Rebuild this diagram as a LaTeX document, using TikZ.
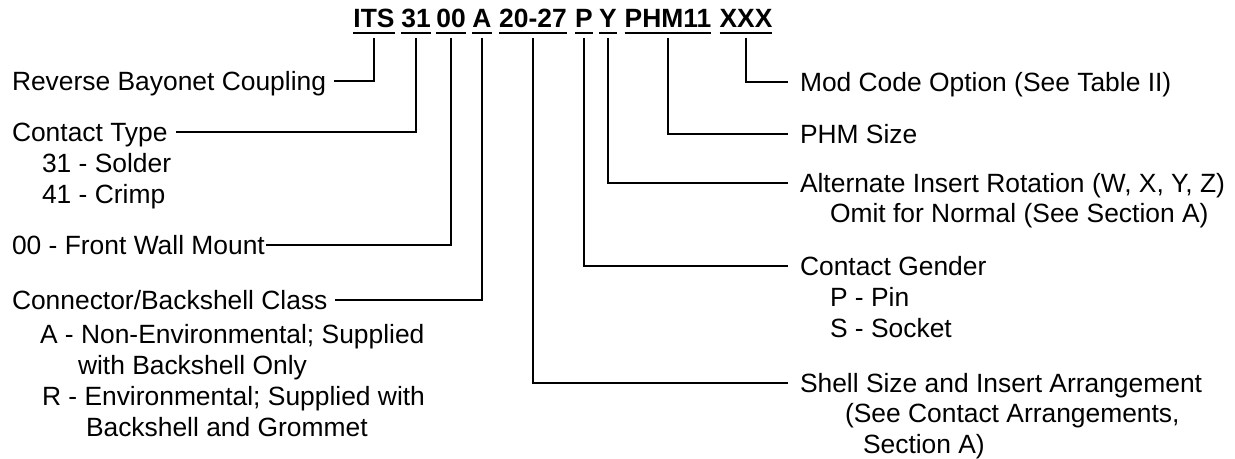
\documentclass[tikz,border=0pt]{standalone}
\usepackage{fontspec}
\setmainfont{Liberation Sans}
\usepackage{tikz}
\usetikzlibrary{positioning}

\tikzset{
    seg/.style={font=\fontsize{13.2}{15.5}\selectfont\bfseries, inner sep=0pt,
                outer xsep=0pt, outer ysep=5pt, text depth=0pt, anchor=base},
    lbl/.style={font=\fontsize{13.2}{15.5}\selectfont, inner sep=0pt, outer xsep=#1,
                text height=9.4pt, text depth=0pt, anchor=west},
    lbl/.default=4pt,
    lead/.style={line width=1.3pt},
    uline/.style={line width=1pt}
}

\begin{document}
\begin{tikzpicture}[x=0.5pt, y=-0.5pt]
    \useasboundingbox (0,0) rectangle (1235,459);

    % part number segments
    \node[seg] (its)   at (374,28) {ITS};
    \node[seg] (s31)   at (416,28) {31};
    \node[seg] (s00)   at (451,28) {00};
    \node[seg] (sA)    at (482,28) {A};
    \node[seg] (s2027) at (533,28) {20-27};
    \node[seg] (sP)    at (584,28) {P};
    \node[seg] (sY)    at (608,28) {Y};
    \node[seg] (sphm)  at (668,28) {PHM11};
    \node[seg] (sxxx)  at (746,28) {XXX};
    \foreach \s in {its,s31,s00,sA,s2027,sP,sY,sphm,sxxx}
        \draw[uline] ([yshift=-2.5pt]\s.base west) -- ([yshift=-2.5pt]\s.base east);

    % left labels
    \node[lbl] (rbc)    at (4,81)   {Reverse Bayonet Coupling};
    \node[lbl] (ctype)  at (4,132)  {Contact Type};
    \node[lbl] (solder) at (34,163) {31 - Solder};
    \node[lbl] (crimp)  at (34,194) {41 - Crimp};
    \node[lbl=0.5pt] (fwm) at (11,245) {00 - Front Wall Mount};
    \node[lbl] (cbc)    at (4,300)  {Connector/Backshell Class};
    \node[lbl] (envA)   at (32,334) {A - Non-Environmental; Supplied};
    \node[lbl] (envA2)  at (70,365) {with Backshell Only};
    \node[lbl] (envR)   at (34,396) {R - Environmental; Supplied with};
    \node[lbl] (envR2)  at (78,427) {Backshell and Grommet};

    % right labels
    \node[lbl=6pt] (mod)    at (788,82)  {Mod Code Option (See Table II)};
    \node[lbl=6pt] (phm)    at (788,134) {PHM Size};
    \node[lbl=6pt] (air)    at (788,183) {Alternate Insert Rotation (W, X, Y, Z)};
    \node[lbl=6pt] (omit)   at (818,213) {Omit for Normal (See Section A)};
    \node[lbl=6pt] (cg)     at (788,266) {Contact Gender};
    \node[lbl=6pt] (pin)    at (818,297) {P - Pin};
    \node[lbl=6pt] (socket) at (818,328) {S - Socket};
    \node[lbl=6pt] (shell)  at (788,383) {Shell Size and Insert Arrangement};
    \node[lbl=6pt] (seeca)  at (833,413) {(See Contact Arrangements,};
    \node[lbl=6pt] (secA)   at (851,444) {Section A)};

    % leaders
    \draw[lead] (its.south)   |- (rbc.east);
    \draw[lead] (s31.south)   |- (ctype.east);
    \draw[lead] (s00.south)   |- (fwm.east);
    \draw[lead] (sA.south)    |- (cbc.east);
    \draw[lead] (s2027.south) |- (shell.west);
    \draw[lead] (sP.south)    |- (cg.west);
    \draw[lead] (sY.south)    |- (air.west);
    \draw[lead] (sphm.south)  |- (phm.west);
    \draw[lead] (sxxx.south)  |- (mod.west);
\end{tikzpicture}
\end{document}
